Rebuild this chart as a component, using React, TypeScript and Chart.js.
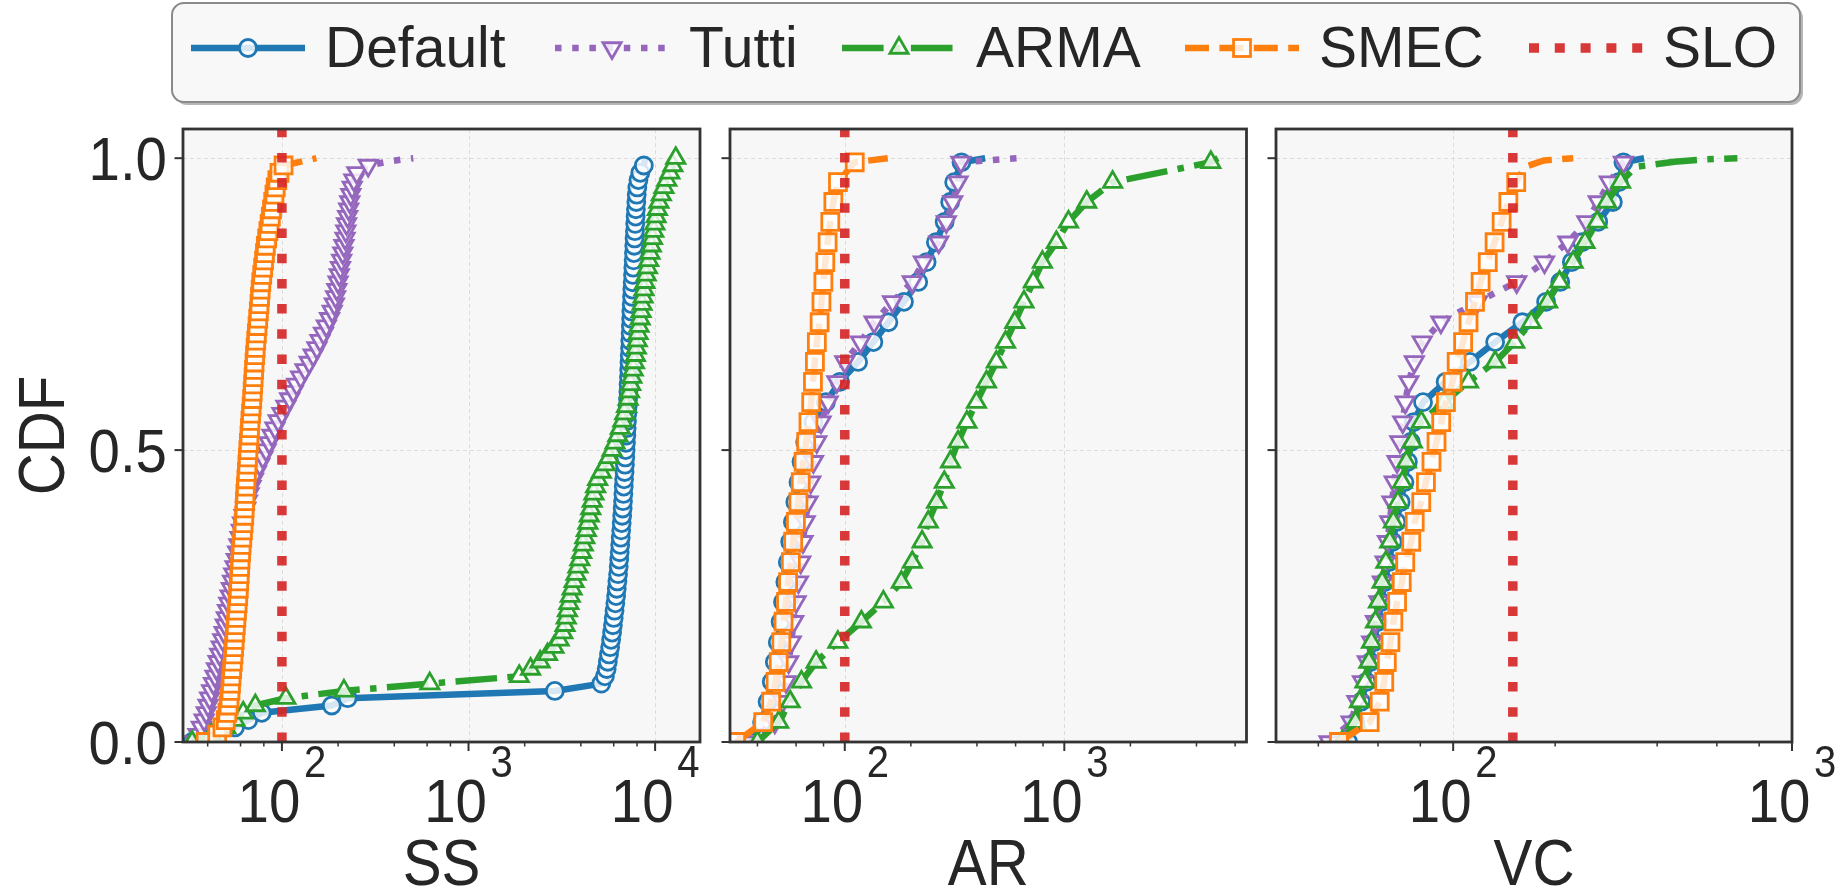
import React, { useEffect, useRef } from "react";
import { Chart, registerables } from "chart.js";

Chart.register(...registerables);

// ---------------- DATA ----------------
// CDF levels at which markers are drawn (SS panel has a finer grid)
const ssLevels = [
  0, 0.0125, 0.025, 0.0375, 0.05, 0.0625, 0.075, 0.0875, 0.1, 0.1125,
  0.125, 0.1375, 0.15, 0.1625, 0.175, 0.1875, 0.2, 0.2125, 0.225, 0.2375,
  0.25, 0.2625, 0.275, 0.2875, 0.3, 0.3125, 0.325, 0.3375, 0.35, 0.3625,
  0.375, 0.3875, 0.4, 0.4125, 0.425, 0.4375, 0.45, 0.4625, 0.475, 0.4875,
  0.5, 0.5125, 0.525, 0.5375, 0.55, 0.5625, 0.575, 0.5875, 0.6, 0.6125,
  0.625, 0.6375, 0.65, 0.6625, 0.675, 0.6875, 0.7, 0.7125, 0.725, 0.7375,
  0.75, 0.7625, 0.775, 0.7875, 0.8, 0.8125, 0.825, 0.8375, 0.85, 0.8625,
  0.875, 0.8875, 0.9, 0.9125, 0.925, 0.9375, 0.95, 0.9625, 0.975, 0.9875,
  1.0,
];

const ssDefault = [
  33, 45, 56, 66, 78, 185, 225, 2900, 5150, 5380,
  5500, 5580, 5660, 5740, 5810, 5880, 5940, 6000, 6060, 6120,
  6180, 6230, 6280, 6330, 6380, 6420, 6460, 6500, 6540, 6580,
  6620, 6660, 6700, 6730, 6760, 6790, 6820, 6860, 6890, 6920,
  6950, 6980, 7010, 7040, 7070, 7100, 7130, 7160, 7190, 7210,
  7240, 7260, 7290, 7310, 7340, 7360, 7390, 7410, 7440, 7460,
  7490, 7520, 7550, 7580, 7610, 7640, 7670, 7700, 7730, 7760,
  7790, 7820, 7860, 7890, 7930, 7970, 8030, 8140, 8330, 8700,
];
const ssDefaultTail = [[8850, 1.0]];

const ssTutti = [
  34, 35.5, 37, 38.3, 39.3, 40.2, 41, 42, 43, 43.8,
  44.6, 45.5, 46.4, 47.3, 48.2, 49, 49.7, 50.4, 51.1, 51.9,
  52.8, 53.6, 54.4, 55.2, 56.1, 57, 57.9, 58.8, 59.7, 60.6,
  61.5, 62.7, 64, 65.3, 66.7, 68.3, 70.4, 73, 76, 79,
  82.2, 85.4, 88.5, 91.8, 95.5, 100, 105, 110, 115, 120,
  126, 133, 140, 147, 154, 160, 167, 173, 180, 186,
  191, 194, 197, 200, 203, 206, 209, 212, 215, 218,
  220, 222, 225, 228, 231, 234, 238, 243, 252, 290,
];
const ssTuttiTail = [[381, 0.995], [506, 1.0]];

const ssArma = [
  33, 42, 50, 56, 62, 72, 105, 215, 620, 1870,
  2150, 2420, 2650, 2870, 3060, 3200, 3290, 3340, 3390, 3450,
  3510, 3590, 3680, 3770, 3860, 3950, 4040, 4120, 4200, 4280,
  4360, 4440, 4520, 4600, 4700, 4800, 4920, 5150, 5420, 5670,
  5880, 6100, 6310, 6510, 6710, 6870, 7030, 7170, 7290, 7400,
  7510, 7630, 7750, 7840, 7930, 8020, 8110, 8200, 8310, 8410,
  8510, 8620, 8720, 8820, 8960, 9100, 9240, 9390, 9540, 9680,
  9830, 9970, 10120, 10280, 10480, 10790, 11150, 11550, 12000, 12450,
  12900,
];
const ssArmaTail: number[][] = [];

const ssSmec = [
  39, 45, 48, 50, 51, 51.8, 52.4, 53, 53.3, 53.7,
  54.1, 54.6, 55, 55.4, 55.8, 56.2, 56.6, 57, 57.4, 57.9,
  58.3, 58.7, 59, 59.4, 59.7, 60, 60.4, 60.8, 61.3, 61.8,
  62.3, 62.8, 63.1, 63.4, 63.7, 64.1, 64.5, 64.9, 65.3, 65.7,
  66.1, 66.5, 67, 67.4, 67.8, 68.3, 68.8, 69.3, 69.7, 70.1,
  70.5, 70.9, 71.3, 71.8, 72.3, 72.8, 73.4, 74, 74.6, 75.2,
  75.8, 76.3, 76.9, 77.5, 78.4, 79.3, 80.2, 81.1, 82, 83.3,
  84.6, 85.9, 87.2, 88.5, 89.8, 91.2, 92.6, 94.5, 97, 102,
];
const ssSmecTail = [[153, 1.0]];

const arLevels = [
  0, 0.034, 0.069, 0.103, 0.137, 0.171, 0.206, 0.24, 0.274, 0.308,
  0.343, 0.377, 0.411, 0.445, 0.48, 0.514, 0.548, 0.582, 0.617, 0.651,
  0.685, 0.719, 0.754, 0.788, 0.822, 0.856, 0.891, 0.925, 0.959, 0.993,
];
const arDefault = [
  38, 42, 44.5, 46.5, 48, 49.5, 51, 52.3, 53.6, 55,
  56.4, 58, 59.5, 61.5, 63.5, 66, 72, 82, 95, 115,
  135, 158, 186, 216, 236, 260, 285, 302, 315, 340,
];
const arDefaultTail = [[436, 1.0]];
const arTutti = [
  36, 48, 52, 54, 55.5, 57, 58.5, 60, 61.5, 63,
  64.5, 66, 68, 70, 72, 74.5, 78, 84, 92, 100,
  118, 136, 165, 203, 228, 268, 290, 310, 328, 338,
];
const arTuttiTail = [[612, 1.0]];
const arArma = [
  40, 50, 56.4, 63.5, 74, 93, 119, 150, 181, 203,
  225, 240, 262, 284, 303, 328, 360, 398, 442, 490,
  540, 595, 655, 722, 795, 920, 1045, 1265, 1660, 4650,
];
const arArmaTail = [[5010, 1.0]];
const arSmec = [
  32, 42.5, 46.2, 48.4, 50, 51.4, 52.6, 54, 55.2, 56.8,
  58.2, 59.9, 61.5, 63, 64.9, 66.7, 68.3, 70.3, 71.6, 73.1,
  74.6, 76.8, 78.3, 79.9, 81.5, 83.5, 85.9, 88.7, 93.1, 111,
];
const arSmecTail = [[157, 1.0]];

const vcLevels = [
  0, 0.034, 0.069, 0.103, 0.137, 0.171, 0.206, 0.24, 0.274, 0.308,
  0.343, 0.377, 0.411, 0.445, 0.48, 0.514, 0.548, 0.582, 0.617, 0.651,
  0.685, 0.719, 0.754, 0.788, 0.822, 0.856, 0.891, 0.925, 0.959, 0.993,
];
const vcDefault = [
  49, 51.5, 53.5, 55.5, 57, 58.3, 60, 61.3, 62.8, 64.5,
  66.3, 68, 70, 71.8, 73.5, 75, 76.5, 81.5, 95, 112,
  133, 160, 188, 207, 224, 240, 268, 296, 308, 318,
];
const vcDefaultTail = [[366, 1.0]];
const vcTutti = [
  43, 50, 52, 54, 55.8, 57.5, 59, 60.4, 61.8, 63,
  64, 65, 66, 67, 68.3, 69.6, 71, 72.2, 74, 76.8,
  81, 92, 118, 154, 186, 218, 248, 268, 289, 318,
];
const vcTuttiTail = [[330, 1.0]];
const vcArma = [
  47, 51.5, 52.9, 54.9, 56.4, 57.4, 59, 60.2, 61.7, 63.3,
  65, 66.6, 68.7, 70.8, 72.8, 75.8, 80.5, 94, 111, 133,
  152, 170, 190, 206, 226, 245, 266, 284, 312,
];
const vcArmaTail = [[345, 0.985], [450, 0.994], [560, 0.998], [690, 1.0]];
const vcSmec = [
  46, 56.7, 60.7, 62.6, 63.7, 65.3, 66.6, 68.3, 70.5, 72.2,
  75.2, 77, 80.5, 83.1, 86.3, 89.3, 92.2, 95.2, 99.6, 102.4,
  107, 111, 116, 120.5, 126.5, 132.5, 139, 145.5, 153.5,
];
const vcSmecTail = [[163, 0.985], [185, 0.996], [226, 1.0]];

const panelTitles = ["SS", "AR", "VC"];
const sloValues = [100, 100, 150];
const xMinValues = [29.5, 30, 30];
const xMaxValues = [17400, 6760, 1000];
const yTickValues = [0, 0.5, 1.0];
const yTickLabels = ["0.0", "0.5", "1.0"];
const seriesNames = ["Default", "Tutti", "ARMA", "SMEC"];
const legendNames = ["Default", "Tutti", "ARMA", "SMEC", "SLO"];

const panelSeries: Record<string, [number[], number[][]]>[] = [
  { Default: [ssDefault, ssDefaultTail], Tutti: [ssTutti, ssTuttiTail], ARMA: [ssArma, ssArmaTail], SMEC: [ssSmec, ssSmecTail] },
  { Default: [arDefault, arDefaultTail], Tutti: [arTutti, arTuttiTail], ARMA: [arArma, arArmaTail], SMEC: [arSmec, arSmecTail] },
  { Default: [vcDefault, vcDefaultTail], Tutti: [vcTutti, vcTuttiTail], ARMA: [vcArma, vcArmaTail], SMEC: [vcSmec, vcSmecTail] },
];
const panelLevels = [ssLevels, arLevels, vcLevels];

// ---------------- STYLE / LAYOUT ----------------
const FONT = '"Liberation Sans", Arial, Helvetica, sans-serif';
const INK = "#262626";
const FACE = "#f7f7f7";
const SPINE = "#333333";
const LINE_W = 6.5;
const SLO_W = 9.5;
const SLO_COLOR = "rgba(214,39,40,0.92)";
const MARK_FILL = "rgba(255,255,255,0.82)";
const MARK_EDGE = 2.8;

const STYLE: Record<string, any> = {
  Default: { color: "#1f77b4", dash: [], point: "circle", rot: 0, r: 8.5, order: 4 },
  Tutti: { color: "#9467bd", dash: [6.5, 10.7], point: "triangle", rot: 180, r: 10.5, order: 3 },
  ARMA: { color: "#2ca02c", dash: [41.6, 10.4, 6.5, 10.4], point: "triangle", rot: 0, r: 10.5, order: 2 },
  SMEC: { color: "#ff7f0e", dash: [24, 10.4], point: "rect", rot: 0, r: 12, order: 1 },
};

const CANVAS_H = 893;
const AREA_TOP = 129;
const AREA_BOTTOM = 742;
const PANEL_BOX = [
  { left: 0, width: 715, padL: 183, padR: 15 },
  { left: 715, width: 545, padL: 15, padR: 13.5 },
  { left: 1260, width: 585, padL: 16, padR: 53 },
];

const TICK_FONT = 62;
const EXP_FONT = 44;
const TITLE_FONT = 64;
const SX = 0.91;

function drawText(ctx: CanvasRenderingContext2D, txt: string, x: number, y: number, size: number, align: CanvasTextAlign) {
  ctx.save();
  ctx.translate(x, y);
  ctx.scale(SX, 1);
  ctx.font = `${size}px ${FONT}`;
  ctx.textAlign = align;
  ctx.textBaseline = "alphabetic";
  ctx.fillStyle = INK;
  ctx.fillText(txt, 0, 0);
  ctx.restore();
}

function decadesIn(min: number, max: number) {
  const out: number[] = [];
  for (let e = Math.floor(Math.log10(min)); e <= Math.ceil(Math.log10(max)); e++) {
    const v = Math.pow(10, e);
    if (v >= min * 0.999 && v <= max * 1.001) out.push(e);
  }
  return out;
}
function minorsIn(min: number, max: number) {
  const out: number[] = [];
  for (let e = Math.floor(Math.log10(min)); e <= Math.ceil(Math.log10(max)); e++) {
    for (const m of [2, 4, 6, 8]) {
      const v = m * Math.pow(10, e);
      if (v > min && v < max) out.push(v);
    }
  }
  return out;
}

function makePlugin(idx: number) {
  const min = xMinValues[idx];
  const max = xMaxValues[idx];
  return {
    id: "panelDecor" + idx,
    beforeDatasetsDraw(chart: any) {
      const { ctx, chartArea: a, scales } = chart;
      const xs = scales.x;
      const ys = scales.y;
      ctx.save();
      ctx.fillStyle = FACE;
      ctx.fillRect(a.left, a.top, a.right - a.left, a.bottom - a.top);
      ctx.strokeStyle = "#dcdcdc";
      ctx.lineWidth = 1;
      ctx.setLineDash([4, 3]);
      for (const e of decadesIn(min, max)) {
        const px = Math.round(xs.getPixelForValue(Math.pow(10, e))) + 0.5;
        ctx.beginPath();
        ctx.moveTo(px, a.top);
        ctx.lineTo(px, a.bottom);
        ctx.stroke();
      }
      for (const v of yTickValues) {
        const py = Math.round(ys.getPixelForValue(v)) + 0.5;
        ctx.beginPath();
        ctx.moveTo(a.left, py);
        ctx.lineTo(a.right, py);
        ctx.stroke();
      }
      ctx.restore();
    },
    afterDatasetsDraw(chart: any) {
      const { ctx, chartArea: a, scales } = chart;
      const xs = scales.x;
      const ys = scales.y;
      ctx.save();
      ctx.setLineDash([]);
      // spines
      ctx.strokeStyle = SPINE;
      ctx.lineWidth = 2.8;
      ctx.strokeRect(a.left, a.top, a.right - a.left, a.bottom - a.top);
      // y ticks
      ctx.lineWidth = 2;
      for (const v of yTickValues) {
        const py = ys.getPixelForValue(v);
        ctx.beginPath();
        ctx.moveTo(a.left - 8.5, py);
        ctx.lineTo(a.left, py);
        ctx.stroke();
      }
      // x ticks
      for (const e of decadesIn(min, max)) {
        const px = xs.getPixelForValue(Math.pow(10, e));
        ctx.lineWidth = 2;
        ctx.beginPath();
        ctx.moveTo(px, a.bottom);
        ctx.lineTo(px, a.bottom + 9);
        ctx.stroke();
      }
      for (const v of minorsIn(min, max)) {
        const px = xs.getPixelForValue(v);
        ctx.lineWidth = 1.5;
        ctx.beginPath();
        ctx.moveTo(px, a.bottom);
        ctx.lineTo(px, a.bottom + 4.5);
        ctx.stroke();
      }
      // x tick labels 10^e
      for (const e of decadesIn(min, max)) {
        const px = xs.getPixelForValue(Math.pow(10, e));
        ctx.font = `${TICK_FONT}px ${FONT}`;
        const wBase = ctx.measureText("10").width;
        ctx.font = `${EXP_FONT}px ${FONT}`;
        const wExp = ctx.measureText(String(e)).width;
        const gap = 4;
        const total = (wBase + gap + wExp) * SX;
        const start = px - total / 2;
        drawText(ctx, "10", start, 822, TICK_FONT, "left");
        drawText(ctx, String(e), start + (wBase + gap) * SX, 777, EXP_FONT, "left");
      }
      // y tick labels (first panel only)
      if (idx === 0) {
        yTickValues.forEach((v, i) => {
          const py = ys.getPixelForValue(v);
          drawText(ctx, yTickLabels[i], a.left - 16, py + 22.2, TICK_FONT, "right");
        });
        ctx.save();
        ctx.translate(64, (a.top + a.bottom) / 2);
        ctx.rotate(-Math.PI / 2);
        drawText(ctx, "CDF", 0, 0, TITLE_FONT, "center");
        ctx.restore();
      }
      // x axis title
      drawText(ctx, panelTitles[idx], (a.left + a.right) / 2, 885, TITLE_FONT, "center");
      ctx.restore();
    },
  };
}

function buildDatasets(idx: number) {
  const levels = panelLevels[idx];
  const sets: any[] = [];
  seriesNames.forEach((name) => {
    const [xs, tail] = panelSeries[idx][name];
    const st = STYLE[name];
    const pts = xs.map((x, i) => ({ x, y: levels[i] }));
    const n = pts.length;
    tail.forEach(([x, y]) => pts.push({ x, y }));
    sets.push({
      label: name,
      data: pts,
      borderColor: st.color,
      borderWidth: LINE_W,
      borderDash: st.dash,
      borderCapStyle: "butt",
      borderJoinStyle: "round",
      pointStyle: st.point,
      rotation: st.rot,
      pointRadius: pts.map((_, i) => (i < n ? st.r : 0)),
      pointBorderColor: st.color,
      pointBackgroundColor: MARK_FILL,
      pointBorderWidth: MARK_EDGE,
      tension: 0,
      order: st.order,
      clip: 0,
    });
  });
  sets.push({
    label: "SLO",
    data: [
      { x: sloValues[idx], y: 0 },
      { x: sloValues[idx], y: 1.05 },
    ],
    borderColor: SLO_COLOR,
    borderWidth: SLO_W,
    borderDash: [9.5, 15.7],
    borderCapStyle: "butt",
    pointRadius: 0,
    order: 0,
    clip: 0,
  });
  return sets;
}

function Panel({ idx }: { idx: number }) {
  const ref = useRef<HTMLCanvasElement>(null);
  const box = PANEL_BOX[idx];
  useEffect(() => {
    if (!ref.current) return;
    const chart = new Chart(ref.current, {
      type: "line",
      data: { datasets: buildDatasets(idx) },
      options: {
        responsive: false,
        animation: false,
        devicePixelRatio: 1,
        events: [],
        layout: {
          autoPadding: false,
          padding: { left: box.padL, right: box.padR, top: AREA_TOP, bottom: CANVAS_H - AREA_BOTTOM },
        },
        plugins: { legend: { display: false }, tooltip: { enabled: false } },
        scales: {
          x: { type: "logarithmic", min: xMinValues[idx], max: xMaxValues[idx], display: false },
          y: { type: "linear", min: 0, max: 1.05, display: false },
        },
      } as any,
      plugins: [makePlugin(idx)],
    });
    return () => chart.destroy();
  }, []);
  return (
    <canvas
      ref={ref}
      width={box.width}
      height={CANVAS_H}
      style={{ position: "absolute", left: box.left, top: 0, width: box.width, height: CANVAS_H }}
    />
  );
}

const LEGEND_ITEM_X = [191, 555, 842, 1185, 1529];
const LEGEND_Y = 48;
const SAMPLE_LEN = 114;

function LegendMarker({ name, cx, cy }: { name: string; cx: number; cy: number }) {
  if (name === "SLO") return null;
  const st = STYLE[name];
  const common = { fill: MARK_FILL, stroke: st.color, strokeWidth: MARK_EDGE };
  if (st.point === "circle") return <circle cx={cx} cy={cy} r={st.r} {...common} />;
  if (st.point === "rect") {
    const s = st.r * Math.SQRT2;
    return <rect x={cx - s / 2} y={cy - s / 2} width={s} height={s} {...common} />;
  }
  const r = st.r;
  const h = (r * Math.sqrt(3)) / 2;
  const pts =
    st.rot === 180
      ? `${cx},${cy + r} ${cx + h},${cy - r / 2} ${cx - h},${cy - r / 2}`
      : `${cx},${cy - r} ${cx + h},${cy + r / 2} ${cx - h},${cy + r / 2}`;
  return <polygon points={pts} {...common} />;
}

function Legend() {
  return (
    <svg
      width={1845}
      height={112}
      style={{ position: "absolute", left: 0, top: 0 }}
    >
      <rect x={175} y={6} width={1628} height={99} rx={12} fill="#7a7a7a" opacity={0.55} />
      <rect x={172} y={3} width={1628} height={99} rx={12} fill="#f8f8f8" stroke="#8a8a8a" strokeWidth={2} />
      {legendNames.map((name, i) => {
        const x0 = LEGEND_ITEM_X[i];
        const isSlo = name === "SLO";
        const color = isSlo ? SLO_COLOR : STYLE[name].color;
        const dash = isSlo ? "10 15.8" : STYLE[name].dash.join(" ");
        return (
          <g key={name}>
            <line
              x1={x0}
              x2={x0 + SAMPLE_LEN}
              y1={LEGEND_Y}
              y2={LEGEND_Y}
              stroke={color}
              strokeWidth={isSlo ? SLO_W : LINE_W}
              strokeDasharray={dash || undefined}
            />
            <LegendMarker name={name} cx={x0 + SAMPLE_LEN / 2} cy={LEGEND_Y} />
            <text
              x={x0 + SAMPLE_LEN + 20}
              y={66.5}
              fontFamily={FONT}
              fontSize={57}
              fill={INK}
            >
              {name}
            </text>
          </g>
        );
      })}
    </svg>
  );
}

export default function App() {
  return (
    <div style={{ position: "absolute", left: 0, top: 0, width: 1845, height: 893, background: "#ffffff", overflow: "hidden" }}>
      <Panel idx={0} />
      <Panel idx={1} />
      <Panel idx={2} />
      <Legend />
    </div>
  );
}
